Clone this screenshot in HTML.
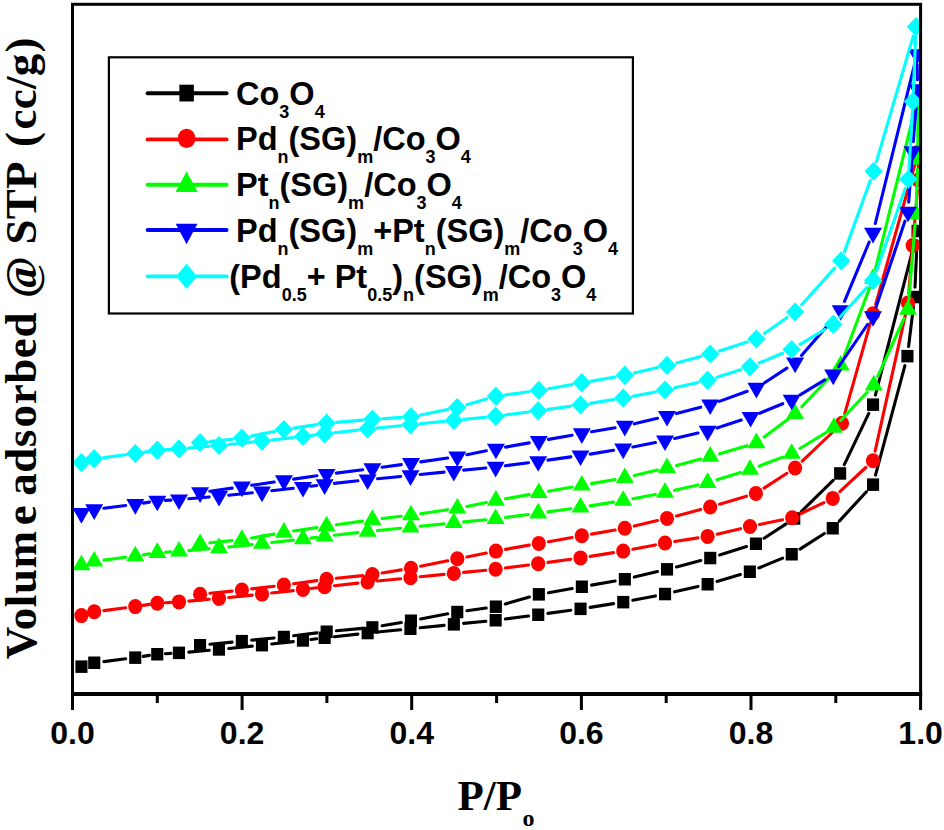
<!DOCTYPE html>
<html><head><meta charset="utf-8"><title>N2 adsorption isotherms</title>
<style>
html,body{margin:0;padding:0;background:#fff}
svg{display:block}
text{font-family:"Liberation Sans",Arial,sans-serif;font-weight:bold;font-size:28px;fill:#000}
.lg{font-size:32.5px}
.tk{font-size:32px}
.sb{font-size:18px}
.ti{font-family:"Liberation Serif","Times New Roman",serif;font-weight:bold}
</style></head>
<body>
<svg width="944" height="830" viewBox="0 0 944 830">
<defs><clipPath id="pc"><rect x="72.5" y="4.3" width="848.1" height="689.6"/></clipPath></defs>
<rect width="944" height="830" fill="#fff"/>
<g clip-path="url(#pc)">
<path d="M103.9 661.6L125.6 658.8M143.2 656.4L149.4 655.4M165.3 653.7L171.0 653.4M188.8 652.1L209.2 650.3M228.7 648.5L252.3 646.1M271.7 644.0L293.3 641.6M310.9 639.5L316.7 638.8M334.3 636.7L357.9 634.1M377.4 632.0L400.7 629.8M420.2 627.8L444.1 625.4M463.6 623.4L485.8 621.3M505.3 619.0L528.5 616.0M547.9 613.4L570.8 610.2M590.2 607.4L613.5 603.6M632.8 600.2L655.4 595.9M674.6 591.8L698.0 586.4M717.0 581.4L740.4 574.6M758.8 568.0L782.7 558.1M800.0 549.1L824.4 533.5M839.3 521.1L866.4 491.8M875.5 475.1L904.9 365.7M908.6 346.5L913.4 306.7M915.0 287.2L917.1 240.8M915.1 240.5L875.4 395.1M868.8 413.4L844.3 464.7M833.1 480.4L801.3 511.6M786.1 523.9L764.1 538.3M746.5 546.6L719.6 555.1M700.7 560.5L676.5 566.9M657.5 571.6L634.3 577.1M615.1 581.0L591.5 585.1M572.1 588.5L548.5 592.7M529.4 597.1L505.3 604.0M486.2 608.0L467.0 610.7M447.7 613.8L420.6 619.0M401.3 622.5L382.1 625.8M362.6 628.4L336.4 630.8M316.9 632.9L293.6 635.8M274.1 638.0L251.7 640.1M232.1 642.1L209.9 644.3" stroke="#000" stroke-width="3.1" fill="none" stroke-linecap="round"/>
<g><rect x="75.4" y="660.4" width="12.1" height="12.5" fill="#000"/><rect x="88.2" y="656.5" width="12.1" height="12.5" fill="#000"/><rect x="129.2" y="651.4" width="12.1" height="12.5" fill="#000"/><rect x="151.2" y="648.0" width="12.1" height="12.5" fill="#000"/><rect x="172.9" y="646.6" width="12.1" height="12.5" fill="#000"/><rect x="212.9" y="643.2" width="12.1" height="12.5" fill="#000"/><rect x="255.9" y="638.9" width="12.1" height="12.5" fill="#000"/><rect x="296.9" y="634.2" width="12.1" height="12.5" fill="#000"/><rect x="318.6" y="631.5" width="12.1" height="12.5" fill="#000"/><rect x="361.6" y="626.8" width="12.1" height="12.5" fill="#000"/><rect x="404.4" y="622.5" width="12.1" height="12.5" fill="#000"/><rect x="447.8" y="618.1" width="12.1" height="12.5" fill="#000"/><rect x="489.6" y="614.0" width="12.1" height="12.5" fill="#000"/><rect x="532.2" y="608.5" width="12.1" height="12.5" fill="#000"/><rect x="574.5" y="602.6" width="12.1" height="12.5" fill="#000"/><rect x="617.2" y="595.9" width="12.1" height="12.5" fill="#000"/><rect x="659.0" y="587.8" width="12.1" height="12.5" fill="#000"/><rect x="701.6" y="578.0" width="12.1" height="12.5" fill="#000"/><rect x="743.8" y="565.5" width="12.1" height="12.5" fill="#000"/><rect x="785.7" y="548.0" width="12.1" height="12.5" fill="#000"/><rect x="826.7" y="522.0" width="12.1" height="12.5" fill="#000"/><rect x="867.0" y="478.4" width="12.1" height="12.5" fill="#000"/><rect x="901.4" y="349.9" width="12.1" height="12.5" fill="#000"/><rect x="908.6" y="290.8" width="12.1" height="12.5" fill="#000"/><rect x="911.5" y="224.8" width="12.1" height="12.5" fill="#000"/><rect x="867.0" y="398.4" width="12.1" height="12.5" fill="#000"/><rect x="834.1" y="467.2" width="12.1" height="12.5" fill="#000"/><rect x="788.2" y="512.2" width="12.1" height="12.5" fill="#000"/><rect x="749.9" y="537.5" width="12.1" height="12.5" fill="#000"/><rect x="704.2" y="551.8" width="12.1" height="12.5" fill="#000"/><rect x="661.0" y="563.1" width="12.1" height="12.5" fill="#000"/><rect x="618.8" y="573.0" width="12.1" height="12.5" fill="#000"/><rect x="575.8" y="580.5" width="12.1" height="12.5" fill="#000"/><rect x="532.8" y="588.1" width="12.1" height="12.5" fill="#000"/><rect x="489.8" y="600.5" width="12.1" height="12.5" fill="#000"/><rect x="451.2" y="605.8" width="12.1" height="12.5" fill="#000"/><rect x="404.9" y="614.5" width="12.1" height="12.5" fill="#000"/><rect x="366.3" y="621.2" width="12.1" height="12.5" fill="#000"/><rect x="320.6" y="625.5" width="12.1" height="12.5" fill="#000"/><rect x="277.8" y="630.8" width="12.1" height="12.5" fill="#000"/><rect x="235.8" y="634.9" width="12.1" height="12.5" fill="#000"/><rect x="194.0" y="639.0" width="12.1" height="12.5" fill="#000"/></g>
<path d="M103.9 610.6L125.6 607.8M143.2 605.4L149.4 604.4M165.3 602.7L171.0 602.4M188.8 601.1L209.2 599.3M228.7 597.5L252.3 595.1M271.7 593.0L293.3 590.6M310.9 588.5L316.7 587.8M334.3 585.7L357.9 583.1M377.4 581.0L400.7 578.8M420.2 576.8L444.1 574.4M463.6 572.4L485.8 570.3M505.3 568.0L528.5 565.0M547.9 562.4L570.8 559.2M590.2 556.4L613.5 552.6M632.8 549.2L655.4 544.9M674.7 541.5L697.9 537.9M717.1 534.2L740.5 528.7M759.6 524.5L782.6 519.7M801.0 513.5L823.9 502.6M839.9 491.7L865.8 467.5M875.1 451.2L905.9 312.6M908.8 293.2L911.9 255.3M913.5 235.7L917.5 189.8M918.4 170.2L918.4 161.8M915.8 161.4L875.7 304.4M870.3 323.2L844.7 413.8M834.9 430.0L802.2 461.2M786.9 473.3L764.1 488.1M746.5 496.2L719.6 504.2M700.7 509.5L676.5 515.9M657.5 520.6L634.3 526.1M615.1 530.0L591.5 534.1M572.1 537.5L548.5 541.7M529.2 545.1L505.5 549.4M486.3 553.0L466.9 556.9M447.7 560.8L420.6 566.3M401.3 569.9L382.1 573.0M362.7 575.6L336.3 578.3M316.9 580.6L293.6 583.7M274.2 586.2L251.6 588.9M232.1 591.1L209.9 593.3" stroke="#f00" stroke-width="3.1" fill="none" stroke-linecap="round"/>
<g><ellipse cx="81.4" cy="615.6" rx="7.1" ry="7.5" fill="#f00"/><ellipse cx="94.2" cy="611.8" rx="7.1" ry="7.5" fill="#f00"/><ellipse cx="135.3" cy="606.6" rx="7.1" ry="7.5" fill="#f00"/><ellipse cx="157.3" cy="603.2" rx="7.1" ry="7.5" fill="#f00"/><ellipse cx="179.0" cy="601.9" rx="7.1" ry="7.5" fill="#f00"/><ellipse cx="219.0" cy="598.5" rx="7.1" ry="7.5" fill="#f00"/><ellipse cx="262.0" cy="594.1" rx="7.1" ry="7.5" fill="#f00"/><ellipse cx="303.0" cy="589.5" rx="7.1" ry="7.5" fill="#f00"/><ellipse cx="324.6" cy="586.8" rx="7.1" ry="7.5" fill="#f00"/><ellipse cx="367.6" cy="582.0" rx="7.1" ry="7.5" fill="#f00"/><ellipse cx="410.5" cy="577.8" rx="7.1" ry="7.5" fill="#f00"/><ellipse cx="453.8" cy="573.4" rx="7.1" ry="7.5" fill="#f00"/><ellipse cx="495.6" cy="569.3" rx="7.1" ry="7.5" fill="#f00"/><ellipse cx="538.2" cy="563.7" rx="7.1" ry="7.5" fill="#f00"/><ellipse cx="580.5" cy="557.9" rx="7.1" ry="7.5" fill="#f00"/><ellipse cx="623.2" cy="551.1" rx="7.1" ry="7.5" fill="#f00"/><ellipse cx="665.0" cy="543.0" rx="7.1" ry="7.5" fill="#f00"/><ellipse cx="707.6" cy="536.4" rx="7.1" ry="7.5" fill="#f00"/><ellipse cx="750.0" cy="526.5" rx="7.1" ry="7.5" fill="#f00"/><ellipse cx="792.2" cy="517.7" rx="7.1" ry="7.5" fill="#f00"/><ellipse cx="832.7" cy="498.4" rx="7.1" ry="7.5" fill="#f00"/><ellipse cx="873.0" cy="460.8" rx="7.1" ry="7.5" fill="#f00"/><ellipse cx="908.0" cy="303.0" rx="7.1" ry="7.5" fill="#f00"/><ellipse cx="912.7" cy="245.5" rx="7.1" ry="7.5" fill="#f00"/><ellipse cx="918.3" cy="180.0" rx="7.1" ry="7.5" fill="#f00"/><ellipse cx="918.5" cy="152.0" rx="7.1" ry="7.5" fill="#f00"/><ellipse cx="873.0" cy="313.8" rx="7.1" ry="7.5" fill="#f00"/><ellipse cx="842.0" cy="423.2" rx="7.1" ry="7.5" fill="#f00"/><ellipse cx="795.1" cy="468.0" rx="7.1" ry="7.5" fill="#f00"/><ellipse cx="755.9" cy="493.4" rx="7.1" ry="7.5" fill="#f00"/><ellipse cx="710.2" cy="507.0" rx="7.1" ry="7.5" fill="#f00"/><ellipse cx="667.0" cy="518.4" rx="7.1" ry="7.5" fill="#f00"/><ellipse cx="624.8" cy="528.3" rx="7.1" ry="7.5" fill="#f00"/><ellipse cx="581.8" cy="535.8" rx="7.1" ry="7.5" fill="#f00"/><ellipse cx="538.8" cy="543.4" rx="7.1" ry="7.5" fill="#f00"/><ellipse cx="495.9" cy="551.1" rx="7.1" ry="7.5" fill="#f00"/><ellipse cx="457.3" cy="558.8" rx="7.1" ry="7.5" fill="#f00"/><ellipse cx="411.0" cy="568.3" rx="7.1" ry="7.5" fill="#f00"/><ellipse cx="372.4" cy="574.6" rx="7.1" ry="7.5" fill="#f00"/><ellipse cx="326.6" cy="579.3" rx="7.1" ry="7.5" fill="#f00"/><ellipse cx="283.9" cy="585.0" rx="7.1" ry="7.5" fill="#f00"/><ellipse cx="241.9" cy="590.1" rx="7.1" ry="7.5" fill="#f00"/><ellipse cx="200.1" cy="594.3" rx="7.1" ry="7.5" fill="#f00"/></g>
<path d="M103.9 560.1L125.6 557.3M143.2 554.9L149.4 553.9M165.3 552.2L171.0 551.9M188.8 550.6L209.2 548.8M228.7 547.0L252.3 544.6M271.7 542.5L293.3 540.1M310.9 538.0L316.7 537.3M334.3 535.2L357.9 532.6M377.4 530.5L400.7 528.3M420.2 526.3L444.1 523.9M463.6 521.9L485.8 519.8M505.3 517.5L528.5 514.5M547.9 511.9L570.8 508.7M590.2 505.9L613.5 502.1M632.8 498.7L655.4 494.4M674.6 490.3L698.0 484.9M717.0 479.8L740.6 472.5M759.1 466.1L782.6 457.1M800.0 448.5L825.7 432.7M840.7 420.5L867.1 392.3M877.8 376.3L904.0 318.5M908.8 299.8L915.2 224.0M916.3 204.4L917.5 169.4M917.8 149.8L918.0 107.0M915.6 106.7L875.4 269.1M869.6 287.8L844.1 356.2M834.0 372.5L801.8 406.8M787.3 419.8L764.2 437.1M747.0 445.7L719.6 453.8M700.7 459.0L676.5 465.4M657.5 470.1L634.3 475.6M615.1 479.5L591.5 483.6M572.1 487.0L548.5 491.2M529.2 494.6L505.5 498.8M486.3 502.4L466.9 506.4M447.6 509.7L420.7 513.7M401.3 516.3L382.1 518.5M362.7 521.1L336.3 524.7M316.9 527.6L293.6 531.0M274.2 534.1L251.6 538.0M232.1 540.6L209.9 542.8" stroke="#0f0" stroke-width="3.1" fill="none" stroke-linecap="round"/>
<g><polygon points="81.4,554.7 90.4,570.3 72.4,570.3" fill="#0f0"/><polygon points="94.2,550.9 103.2,566.5 85.2,566.5" fill="#0f0"/><polygon points="135.3,545.7 144.3,561.3 126.3,561.3" fill="#0f0"/><polygon points="157.3,542.3 166.3,557.9 148.3,557.9" fill="#0f0"/><polygon points="179.0,541.0 188.0,556.6 170.0,556.6" fill="#0f0"/><polygon points="219.0,537.6 228.0,553.2 210.0,553.2" fill="#0f0"/><polygon points="262.0,533.2 271.0,548.8 253.0,548.8" fill="#0f0"/><polygon points="303.0,528.6 312.0,544.2 294.0,544.2" fill="#0f0"/><polygon points="324.6,525.9 333.6,541.5 315.6,541.5" fill="#0f0"/><polygon points="367.6,521.1 376.6,536.7 358.6,536.7" fill="#0f0"/><polygon points="410.5,516.9 419.5,532.5 401.5,532.5" fill="#0f0"/><polygon points="453.8,512.5 462.8,528.1 444.8,528.1" fill="#0f0"/><polygon points="495.6,508.4 504.6,524.0 486.6,524.0" fill="#0f0"/><polygon points="538.2,502.8 547.2,518.4 529.2,518.4" fill="#0f0"/><polygon points="580.5,497.0 589.5,512.6 571.5,512.6" fill="#0f0"/><polygon points="623.2,490.2 632.2,505.8 614.2,505.8" fill="#0f0"/><polygon points="665.0,482.1 674.0,497.7 656.0,497.7" fill="#0f0"/><polygon points="707.6,472.3 716.6,487.9 698.6,487.9" fill="#0f0"/><polygon points="750.0,459.2 759.0,474.8 741.0,474.8" fill="#0f0"/><polygon points="791.7,443.2 800.7,458.8 782.7,458.8" fill="#0f0"/><polygon points="834.0,417.2 843.0,432.8 825.0,432.8" fill="#0f0"/><polygon points="873.8,374.8 882.8,390.4 864.8,390.4" fill="#0f0"/><polygon points="908.0,299.2 917.0,314.8 899.0,314.8" fill="#0f0"/><polygon points="916.0,203.8 925.0,219.4 907.0,219.4" fill="#0f0"/><polygon points="917.8,149.2 926.8,164.8 908.8,164.8" fill="#0f0"/><polygon points="918.0,86.8 927.0,102.4 909.0,102.4" fill="#0f0"/><polygon points="873.0,268.2 882.0,283.8 864.0,283.8" fill="#0f0"/><polygon points="840.7,355.0 849.7,370.6 831.7,370.6" fill="#0f0"/><polygon points="795.1,403.5 804.1,419.1 786.1,419.1" fill="#0f0"/><polygon points="756.4,432.6 765.4,448.2 747.4,448.2" fill="#0f0"/><polygon points="710.2,446.1 719.2,461.7 701.2,461.7" fill="#0f0"/><polygon points="667.0,457.5 676.0,473.1 658.0,473.1" fill="#0f0"/><polygon points="624.8,467.4 633.8,483.0 615.8,483.0" fill="#0f0"/><polygon points="581.8,474.9 590.8,490.5 572.8,490.5" fill="#0f0"/><polygon points="538.8,482.5 547.8,498.1 529.8,498.1" fill="#0f0"/><polygon points="495.9,490.1 504.9,505.7 486.9,505.7" fill="#0f0"/><polygon points="457.3,497.9 466.3,513.5 448.3,513.5" fill="#0f0"/><polygon points="411.0,504.7 420.0,520.3 402.0,520.3" fill="#0f0"/><polygon points="372.4,509.3 381.4,524.9 363.4,524.9" fill="#0f0"/><polygon points="326.6,515.7 335.6,531.3 317.6,531.3" fill="#0f0"/><polygon points="283.9,522.1 292.9,537.7 274.9,537.7" fill="#0f0"/><polygon points="241.9,529.2 250.9,544.8 232.9,544.8" fill="#0f0"/><polygon points="200.1,533.4 209.1,549.0 191.1,549.0" fill="#0f0"/></g>
<path d="M103.9 508.3L125.6 505.5M143.2 503.1L149.4 502.1M165.3 500.4L171.0 500.1M188.8 498.8L209.2 497.0M228.7 495.2L252.3 492.8M271.7 490.7L293.3 488.3M310.9 486.2L316.7 485.5M334.3 483.4L357.9 480.8M377.4 478.7L400.7 476.5M420.2 474.5L444.1 472.1M463.6 470.1L485.8 468.0M505.3 465.7L528.5 462.7M547.9 460.1L570.8 456.9M590.2 454.1L613.5 450.3M632.8 446.9L655.4 442.6M674.6 438.5L698.0 433.1M716.9 427.9L741.3 420.1M759.6 413.3L782.7 403.7M800.1 394.8L824.8 379.9M838.7 366.7L867.5 324.5M876.1 307.1L904.9 221.2M908.7 202.1L911.8 161.2M913.3 141.6L916.7 99.2M917.4 79.6L917.1 64.2M914.7 63.9L875.3 223.5M869.2 242.0L844.5 301.4M834.3 317.8L801.5 355.4M786.9 368.1L764.6 382.7M747.2 391.3L719.4 401.4M700.7 407.2L676.5 413.6M657.5 418.3L634.3 423.8M615.1 427.7L591.5 431.8M572.1 435.2L548.5 439.4M529.2 442.9L505.5 447.1M486.3 450.8L466.9 454.7M447.6 458.0L420.7 461.9M401.3 464.6L382.1 467.2M362.7 469.7L336.3 473.1M316.9 475.7L293.6 479.1M274.2 482.0L251.6 485.3M232.2 488.1L209.8 491.2" stroke="#00f" stroke-width="3.1" fill="none" stroke-linecap="round"/>
<g><polygon points="81.4,523.7 90.4,508.1 72.4,508.1" fill="#00f"/><polygon points="94.2,519.9 103.2,504.3 85.2,504.3" fill="#00f"/><polygon points="135.3,514.7 144.3,499.1 126.3,499.1" fill="#00f"/><polygon points="157.3,511.3 166.3,495.7 148.3,495.7" fill="#00f"/><polygon points="179.0,510.0 188.0,494.4 170.0,494.4" fill="#00f"/><polygon points="219.0,506.6 228.0,491.0 210.0,491.0" fill="#00f"/><polygon points="262.0,502.2 271.0,486.6 253.0,486.6" fill="#00f"/><polygon points="303.0,497.6 312.0,482.0 294.0,482.0" fill="#00f"/><polygon points="324.6,494.9 333.6,479.3 315.6,479.3" fill="#00f"/><polygon points="367.6,490.1 376.6,474.5 358.6,474.5" fill="#00f"/><polygon points="410.5,485.9 419.5,470.3 401.5,470.3" fill="#00f"/><polygon points="453.8,481.5 462.8,465.9 444.8,465.9" fill="#00f"/><polygon points="495.6,477.4 504.6,461.8 486.6,461.8" fill="#00f"/><polygon points="538.2,471.8 547.2,456.2 529.2,456.2" fill="#00f"/><polygon points="580.5,466.0 589.5,450.4 571.5,450.4" fill="#00f"/><polygon points="623.2,459.2 632.2,443.6 614.2,443.6" fill="#00f"/><polygon points="665.0,451.1 674.0,435.5 656.0,435.5" fill="#00f"/><polygon points="707.6,441.3 716.6,425.7 698.6,425.7" fill="#00f"/><polygon points="750.6,427.5 759.6,411.9 741.6,411.9" fill="#00f"/><polygon points="791.7,410.3 800.7,394.7 782.7,394.7" fill="#00f"/><polygon points="833.2,385.2 842.2,369.6 824.2,369.6" fill="#00f"/><polygon points="873.0,326.8 882.0,311.2 864.0,311.2" fill="#00f"/><polygon points="908.0,222.3 917.0,206.7 899.0,206.7" fill="#00f"/><polygon points="912.5,161.8 921.5,146.2 903.5,146.2" fill="#00f"/><polygon points="917.5,99.8 926.5,84.2 908.5,84.2" fill="#00f"/><polygon points="917.0,64.8 926.0,49.2 908.0,49.2" fill="#00f"/><polygon points="873.0,243.4 882.0,227.8 864.0,227.8" fill="#00f"/><polygon points="840.7,320.8 849.7,305.2 831.7,305.2" fill="#00f"/><polygon points="795.1,373.2 804.1,357.6 786.1,357.6" fill="#00f"/><polygon points="756.4,398.4 765.4,382.8 747.4,382.8" fill="#00f"/><polygon points="710.2,415.1 719.2,399.5 701.2,399.5" fill="#00f"/><polygon points="667.0,426.5 676.0,410.9 658.0,410.9" fill="#00f"/><polygon points="624.8,436.4 633.8,420.8 615.8,420.8" fill="#00f"/><polygon points="581.8,443.9 590.8,428.3 572.8,428.3" fill="#00f"/><polygon points="538.8,451.5 547.8,435.9 529.8,435.9" fill="#00f"/><polygon points="495.9,459.3 504.9,443.7 486.9,443.7" fill="#00f"/><polygon points="457.3,467.0 466.3,451.4 448.3,451.4" fill="#00f"/><polygon points="411.0,473.7 420.0,458.1 402.0,458.1" fill="#00f"/><polygon points="372.4,478.9 381.4,463.3 363.4,463.3" fill="#00f"/><polygon points="326.6,484.7 335.6,469.1 317.6,469.1" fill="#00f"/><polygon points="283.9,490.9 292.9,475.3 274.9,475.3" fill="#00f"/><polygon points="241.9,497.2 250.9,481.6 232.9,481.6" fill="#00f"/><polygon points="200.1,502.9 209.1,487.3 191.1,487.3" fill="#00f"/></g>
<path d="M103.9 457.6L125.6 454.8M143.2 452.4L149.4 451.4M165.3 449.7L171.0 449.4M188.8 448.1L209.2 446.3M228.7 444.5L252.3 442.1M271.7 440.0L293.3 437.6M310.9 435.5L316.7 434.8M334.3 432.7L357.9 430.1M377.4 428.0L400.7 425.8M420.2 423.8L444.1 421.4M463.6 419.4L485.8 417.3M505.3 415.0L528.5 412.0M547.9 409.4L570.8 406.2M590.2 403.4L613.5 399.6M632.8 396.2L655.4 391.9M674.6 387.8L698.0 382.4M716.9 377.2L740.7 369.8M759.1 363.0L782.6 353.3M800.1 344.4L824.8 329.5M839.8 317.2L866.6 287.7M876.4 271.2L905.2 188.5M909.0 169.4L912.4 111.3M913.4 91.7L915.6 36.5M913.2 36.1L876.4 161.9M870.3 180.5L844.5 251.6M834.6 268.1L801.7 304.7M787.1 317.6L764.4 333.4M747.1 342.0L719.5 351.0M700.7 356.5L676.5 362.9M657.5 367.6L634.3 373.1M615.1 377.0L591.5 381.1M572.1 384.5L548.5 388.7M529.1 391.7L505.6 394.9M486.5 399.0L466.7 404.7M447.7 409.4L420.6 414.9M401.2 417.4L382.2 418.7M362.6 420.1L336.4 422.4M316.9 424.6L293.6 428.1M274.3 431.5L251.5 436.1M232.2 439.2L209.8 441.6" stroke="#0ff" stroke-width="3.1" fill="none" stroke-linecap="round"/>
<g><polygon points="81.4,453.0 90.6,462.6 81.4,472.2 72.2,462.6" fill="#0ff"/><polygon points="94.2,449.1 103.4,458.8 94.2,468.4 85.0,458.8" fill="#0ff"/><polygon points="135.3,444.0 144.5,453.6 135.3,463.2 126.1,453.6" fill="#0ff"/><polygon points="157.3,440.6 166.5,450.2 157.3,459.9 148.1,450.2" fill="#0ff"/><polygon points="179.0,439.2 188.2,448.9 179.0,458.5 169.8,448.9" fill="#0ff"/><polygon points="219.0,435.9 228.2,445.5 219.0,455.1 209.8,445.5" fill="#0ff"/><polygon points="262.0,431.5 271.2,441.1 262.0,450.8 252.8,441.1" fill="#0ff"/><polygon points="303.0,426.9 312.2,436.5 303.0,446.1 293.8,436.5" fill="#0ff"/><polygon points="324.6,424.1 333.8,433.8 324.6,443.4 315.4,433.8" fill="#0ff"/><polygon points="367.6,419.4 376.8,429.0 367.6,438.6 358.4,429.0" fill="#0ff"/><polygon points="410.5,415.1 419.7,424.8 410.5,434.4 401.3,424.8" fill="#0ff"/><polygon points="453.8,410.8 463.0,420.4 453.8,430.0 444.6,420.4" fill="#0ff"/><polygon points="495.6,406.6 504.8,416.3 495.6,425.9 486.4,416.3" fill="#0ff"/><polygon points="538.2,401.1 547.4,410.7 538.2,420.4 529.0,410.7" fill="#0ff"/><polygon points="580.5,395.2 589.7,404.9 580.5,414.5 571.3,404.9" fill="#0ff"/><polygon points="623.2,388.5 632.4,398.1 623.2,407.8 614.0,398.1" fill="#0ff"/><polygon points="665.0,380.4 674.2,390.0 665.0,399.6 655.8,390.0" fill="#0ff"/><polygon points="707.6,370.6 716.8,380.2 707.6,389.9 698.4,380.2" fill="#0ff"/><polygon points="750.0,357.2 759.2,366.8 750.0,376.4 740.8,366.8" fill="#0ff"/><polygon points="791.7,339.9 800.9,349.5 791.7,359.1 782.5,349.5" fill="#0ff"/><polygon points="833.2,314.8 842.4,324.4 833.2,334.0 824.0,324.4" fill="#0ff"/><polygon points="873.2,270.9 882.4,280.5 873.2,290.1 864.0,280.5" fill="#0ff"/><polygon points="908.4,169.5 917.6,179.2 908.4,188.8 899.2,179.2" fill="#0ff"/><polygon points="913.0,91.8 922.2,101.5 913.0,111.2 903.8,101.5" fill="#0ff"/><polygon points="916.0,17.0 925.2,26.7 916.0,36.4 906.8,26.7" fill="#0ff"/><polygon points="873.6,161.7 882.8,171.3 873.6,181.0 864.4,171.3" fill="#0ff"/><polygon points="841.2,251.2 850.4,260.8 841.2,270.4 832.0,260.8" fill="#0ff"/><polygon points="795.1,302.4 804.3,312.0 795.1,321.6 785.9,312.0" fill="#0ff"/><polygon points="756.4,329.4 765.6,339.0 756.4,348.6 747.2,339.0" fill="#0ff"/><polygon points="710.2,344.4 719.4,354.0 710.2,363.6 701.0,354.0" fill="#0ff"/><polygon points="667.0,355.8 676.2,365.4 667.0,375.0 657.8,365.4" fill="#0ff"/><polygon points="624.8,365.6 634.0,375.3 624.8,384.9 615.6,375.3" fill="#0ff"/><polygon points="581.8,373.1 591.0,382.8 581.8,392.4 572.6,382.8" fill="#0ff"/><polygon points="538.8,380.8 548.0,390.4 538.8,400.0 529.6,390.4" fill="#0ff"/><polygon points="495.9,386.6 505.1,396.2 495.9,405.9 486.7,396.2" fill="#0ff"/><polygon points="457.3,397.9 466.5,407.5 457.3,417.1 448.1,407.5" fill="#0ff"/><polygon points="411.0,407.1 420.2,416.8 411.0,426.4 401.8,416.8" fill="#0ff"/><polygon points="372.4,409.7 381.6,419.3 372.4,428.9 363.2,419.3" fill="#0ff"/><polygon points="326.6,413.6 335.8,423.2 326.6,432.9 317.4,423.2" fill="#0ff"/><polygon points="283.9,419.9 293.1,429.5 283.9,439.1 274.7,429.5" fill="#0ff"/><polygon points="241.9,428.5 251.1,438.1 241.9,447.8 232.7,438.1" fill="#0ff"/><polygon points="200.1,433.0 209.3,442.7 200.1,452.3 190.9,442.7" fill="#0ff"/></g>
</g>
<rect x="72.5" y="4.3" width="848.1" height="689.6" fill="none" stroke="#000" stroke-width="3"/>
<path d="M71.0 693.9H922.1" stroke="#000" stroke-width="4" fill="none"/>
<path d="M72.5 693.9V709.9M157.3 693.9V703.0M242.1 693.9V709.9M326.9 693.9V703.0M411.7 693.9V709.9M496.6 693.9V703.0M581.4 693.9V709.9M666.2 693.9V703.0M751.0 693.9V709.9M835.8 693.9V703.0M920.6 693.9V709.9" stroke="#000" stroke-width="3" fill="none"/>
<text x="72.5" y="744.3" text-anchor="middle" class="tk">0.0</text>
<text x="242.1" y="744.3" text-anchor="middle" class="tk">0.2</text>
<text x="411.7" y="744.3" text-anchor="middle" class="tk">0.4</text>
<text x="581.4" y="744.3" text-anchor="middle" class="tk">0.6</text>
<text x="751.0" y="744.3" text-anchor="middle" class="tk">0.8</text>
<text x="920.6" y="744.3" text-anchor="middle" class="tk">1.0</text>
<rect x="108.9" y="57.3" width="524.0" height="256.2" fill="#fff" stroke="#000" stroke-width="2.2"/>
<path d="M147.6 93.3H226.6" stroke="#000" stroke-width="3.9" stroke-linecap="round"/>
<rect x="179.35" y="84.70" width="14.5" height="16.8" fill="#000"/>
<text x="236.0" y="104.6" class="lg"><tspan dy="0">Co</tspan><tspan class="sb" dy="13">3</tspan><tspan dy="-13">O</tspan><tspan class="sb" dy="13">4</tspan></text>
<path d="M147.6 139.4H226.6" stroke="#f00" stroke-width="3.9" stroke-linecap="round"/>
<ellipse cx="186.6" cy="138.4" rx="8.8" ry="9.7" fill="#f00"/>
<text x="236.0" y="150.0" class="lg"><tspan dy="0">Pd</tspan><tspan class="sb" dy="13">n</tspan><tspan dy="-13">(SG)</tspan><tspan class="sb" dy="13">m</tspan><tspan dy="-13">/Co</tspan><tspan class="sb" dy="13">3</tspan><tspan dy="-13">O</tspan><tspan class="sb" dy="13">4</tspan></text>
<path d="M147.6 184.8H226.6" stroke="#0f0" stroke-width="3.9" stroke-linecap="round"/>
<polygon points="186.6,171.4 197.7,192.0 175.5,192.0" fill="#0f0"/>
<text x="236.0" y="195.9" class="lg"><tspan dy="0">Pt</tspan><tspan class="sb" dy="13">n</tspan><tspan dy="-13">(SG)</tspan><tspan class="sb" dy="13">m</tspan><tspan dy="-13">/Co</tspan><tspan class="sb" dy="13">3</tspan><tspan dy="-13">O</tspan><tspan class="sb" dy="13">4</tspan></text>
<path d="M147.6 230.0H226.6" stroke="#00f" stroke-width="3.9" stroke-linecap="round"/>
<polygon points="186.6,244.3 197.5,223.7 175.7,223.7" fill="#00f"/>
<text x="236.0" y="241.6" class="lg"><tspan dy="0">Pd</tspan><tspan class="sb" dy="13">n</tspan><tspan dy="-13">(SG)</tspan><tspan class="sb" dy="13">m</tspan><tspan dy="-13">+Pt</tspan><tspan class="sb" dy="13">n</tspan><tspan dy="-13">(SG)</tspan><tspan class="sb" dy="13">m</tspan><tspan dy="-13">/Co</tspan><tspan class="sb" dy="13">3</tspan><tspan dy="-13">O</tspan><tspan class="sb" dy="13">4</tspan></text>
<path d="M147.6 276.4H226.6" stroke="#0ff" stroke-width="3.9" stroke-linecap="round"/>
<polygon points="186.6,263.7 197.1,276.3 186.6,288.9 176.1,276.3" fill="#0ff"/>
<text x="229.3" y="287.7" class="lg"><tspan dy="0">(Pd</tspan><tspan class="sb" dy="13">0.5</tspan><tspan dy="-13">+ Pt</tspan><tspan class="sb" dy="13">0.5</tspan><tspan dy="-13">)</tspan><tspan class="sb" dy="13">n</tspan><tspan dy="-13">(SG)</tspan><tspan class="sb" dy="13">m</tspan><tspan dy="-13">/Co</tspan><tspan class="sb" dy="13">3</tspan><tspan dy="-13">O</tspan><tspan class="sb" dy="13">4</tspan></text>
<text class="ti" style="font-size:45px;letter-spacing:0.6px" transform="translate(35.8 659.2) rotate(-90)">Volum<tspan dx="5">e</tspan><tspan dx="-3"> </tspan>ads<tspan dx="1.6">orbed</tspan><tspan style="letter-spacing:0.25px"> <tspan dx="2.4">@</tspan> STP <tspan dx="5">(</tspan><tspan dx="2.3">c</tspan>c/g<tspan dx="1.2">)</tspan></tspan></text>
<text class="ti" style="font-size:43px" x="457.6" y="810.3">P/P</text>
<text class="ti" style="font-size:24px" x="522.6" y="825.8">o</text>
</svg>
</body></html>
